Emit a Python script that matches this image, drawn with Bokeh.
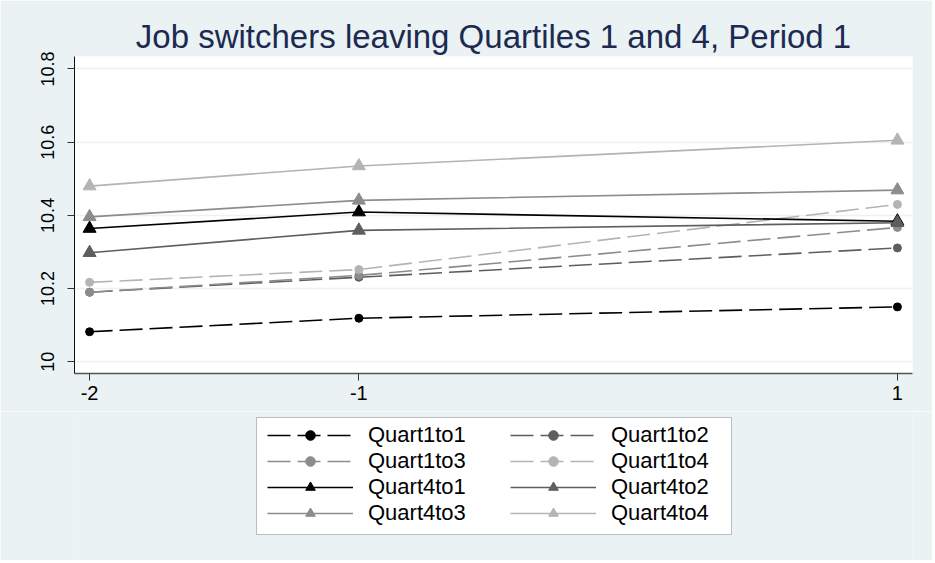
from bokeh.plotting import figure
from bokeh.models import Legend, LegendItem, FixedTicker, Range1d, BoxAnnotation
from bokeh.layouts import column
from bokeh.embed import file_html
from bokeh.resources import INLINE

# ---- data ----
x_vals = [-2, -1, 1]
series_names = ["Quart1to1", "Quart1to2", "Quart1to3", "Quart1to4",
                "Quart4to1", "Quart4to2", "Quart4to3", "Quart4to4"]
q1to1 = [10.082, 10.119, 10.150]
q1to2 = [10.190, 10.231, 10.311]
q1to3 = [10.190, 10.236, 10.367]
q1to4 = [10.217, 10.252, 10.430]
q4to1 = [10.364, 10.409, 10.384]
q4to2 = [10.298, 10.359, 10.380]
q4to3 = [10.396, 10.441, 10.469]
q4to4 = [10.480, 10.535, 10.605]
series_values = [q1to1, q1to2, q1to3, q1to4, q4to1, q4to2, q4to3, q4to4]

y_ticks = [10, 10.2, 10.4, 10.6, 10.8]
y_tick_labels = ["10", "10.2", "10.4", "10.6", "10.8"]
x_ticks = [-2, -1, 1]
x_tick_labels = ["-2", "-1", "1"]
title_text = "Job switchers leaving Quartiles 1 and 4, Period 1"

# ---- styles ----
colors = ["#000000", "#5e5e5e", "#8c8c8c", "#b4b4b4",
          "#000000", "#5e5e5e", "#8c8c8c", "#b4b4b4"]
dashes = ["23 7"] * 4 + ["solid"] * 4
markers = ["circle"] * 4 + ["triangle"] * 4
msizes = [8] * 4 + [13] * 4

BG = "#EAF2F3"
FONT = "Liberation Sans"
W = 932
FL = 74    # frame left (shared by both stacked figures)
FR = 20    # right border
FW = W - FL - FR

# ---------------- main chart ----------------
p = figure(width=W, height=411, output_backend="svg", toolbar_location=None,
           x_range=Range1d(-2.056, 1.056), y_range=Range1d(9.968, 10.834),
           min_border_left=FL, min_border_right=FR, min_border_top=56,
           min_border_bottom=38)
p.border_fill_color = BG
p.background_fill_color = "white"
p.outline_line_color = None

p.title.text = title_text
p.title.align = "center"
p.title.text_font = FONT
p.title.text_font_size = "33px"
p.title.text_font_style = "normal"
p.title.text_color = "#1c2a52"
p.title.standoff = 3

p.yaxis.ticker = FixedTicker(ticks=y_ticks)
p.yaxis.major_label_overrides = {t: l for t, l in zip(y_ticks, y_tick_labels)}
p.yaxis.major_label_orientation = "vertical"
p.xaxis.ticker = FixedTicker(ticks=x_ticks)
p.xaxis.major_label_overrides = {t: l for t, l in zip(x_ticks, x_tick_labels)}
for ax in (p.xaxis[0], p.yaxis[0]):
    ax.minor_tick_line_color = None
    ax.major_tick_in = 0
    ax.major_tick_out = 7
    ax.major_label_text_font = FONT
    ax.major_label_text_color = "black"
p.yaxis.major_label_text_font_size = "18px"
p.xaxis.major_label_text_font_size = "20px"
p.yaxis.axis_line_color = "#111111"
p.yaxis.major_tick_line_color = "#333333"
p.xaxis.axis_line_color = "#555555"
p.xaxis.major_tick_line_color = "#333333"
p.xaxis.axis_line_width = 1.5
p.yaxis.major_label_standoff = 13
p.xaxis.major_label_standoff = 5

p.xgrid.grid_line_color = None
p.ygrid.grid_line_color = BG
p.ygrid.grid_line_width = 1.5

for vals, c, d, m, s in zip(series_values, colors, dashes, markers, msizes):
    p.line(x_vals, vals, line_color=c, line_width=1.6, line_dash=d)
    p.scatter(x_vals, vals, marker=m, size=s, fill_color=c, line_color=c)

# ---------------- legend panel ----------------
LH = 149
# x_range maps data units to page pixels (the frame is aligned with the chart's frame)
q = figure(width=W, height=LH, output_backend="svg", toolbar_location=None,
           x_range=Range1d(FL, FL + FW), y_range=Range1d(0, LH),
           min_border_left=0, min_border_right=0, min_border_top=0,
           min_border_bottom=0)
q.axis.visible = False
q.grid.visible = False
q.outline_line_color = None
q.background_fill_color = BG
q.border_fill_color = BG
# the legend keys need renderers in this figure; they are drawn on a range far off-view
q.extra_x_ranges = {"off": Range1d(100, 101)}
q.extra_y_ranges = {"off": Range1d(100, 101)}

box = BoxAnnotation(left=256, right=731, bottom=26, top=143,
                    fill_color="white", fill_alpha=1.0,
                    line_color="#333333", line_width=1, level="underlay")
q.add_layout(box)

items = []
for name, vals, c, d, m, s in zip(series_names, series_values, colors, dashes, markers, msizes):
    r1 = q.line(x_vals, vals, line_color=c, line_width=1.6, line_dash=d,
                x_range_name="off", y_range_name="off")
    r2 = q.scatter(x_vals, vals, marker=m, size=s, fill_color=c, line_color=c,
                   x_range_name="off", y_range_name="off")
    items.append(LegendItem(label=name, renderers=[r1, r2]))

common = dict(orientation="vertical", glyph_width=86, glyph_height=24,
              label_standoff=15, spacing=0, padding=0, margin=0,
              label_text_font=FONT, label_text_font_size="22px",
              label_text_color="black", border_line_color=None,
              background_fill_alpha=0.0)
left_items = [items[i] for i in (0, 2, 4, 6)]
right_items = [items[i] for i in (1, 3, 5, 7)]
q.add_layout(Legend(items=left_items, location=(267 - FL, 34), **common))
q.add_layout(Legend(items=right_items, location=(510 - FL, 34), **common))

open("out.html", "w").write(file_html(column(p, q, spacing=0), INLINE))
